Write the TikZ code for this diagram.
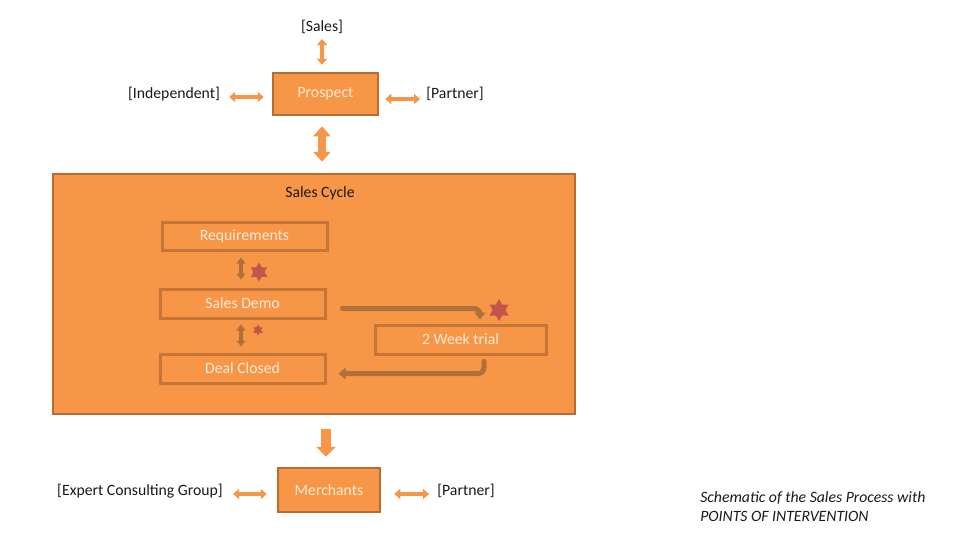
\documentclass[tikz,border=0pt]{standalone}
\usepackage{fontspec}
\setmainfont{Carlito}
\usetikzlibrary{arrows.meta,shapes.geometric}
\definecolor{org}{RGB}{247,150,70}
\definecolor{orgdark}{RGB}{182,108,50}
\definecolor{innerc}{RGB}{196,118,56}
\definecolor{brn}{RGB}{176,112,58}
\definecolor{txtw}{RGB}{253,234,218}
\definecolor{starc}{RGB}{196,84,78}
\definecolor{lbl}{RGB}{25,25,25}
\begin{document}
\begin{tikzpicture}[x=0.75pt,y=-0.75pt,
  font=\fontsize{11.8}{14}\selectfont,
  mainbox/.style={draw=orgdark, fill=org, line width=1.875pt, text=txtw, inner sep=0pt},
  subbox/.style={draw=innerc, line width=2.25pt, text=txtw, inner sep=0pt, minimum height=21.75pt},
  lab/.style={text=lbl, inner sep=0pt},
  sidearrow/.style={draw=org, line width=3pt, {Triangle[width=7.5pt,length=4.5pt]}-{Triangle[width=7.5pt,length=4.5pt]}},
  vertarrow/.style={draw=org, line width=6pt, {Triangle[width=12.75pt,length=7.5pt]}-{Triangle[width=12.75pt,length=7.5pt]}},
  downarrow/.style={draw=org, line width=7.5pt, -{Triangle[width=14.25pt,length=7.5pt]}},
  inarrow/.style={draw=brn, line width=3pt, {Triangle[width=6.75pt,length=4.5pt]}-{Triangle[width=6.75pt,length=4.5pt]}},
  bendarrow/.style={draw=brn, line width=3.75pt, rounded corners=4.5pt, line cap=round, -{Triangle[width=8.25pt,length=5.25pt]}},
  starmark/.style={star, star points=6, star point ratio=1.73, fill=starc, inner sep=0pt}
]
\useasboundingbox (0,0) rectangle (960,540);

% top group
\node[mainbox, minimum width=78.75pt, minimum height=31.5pt] (prospect) at (325.5,94) {\raisebox{-1.2pt}{Prospect}};
\node[lab] (sales) at (322,27) {[Sales]};
\node[lab] (indep) at (174,94) {[Independent]};
\node[lab] (partner) at (455,94) {[Partner]};

\draw[sidearrow, shorten <=3.75pt, shorten >=5.25pt] (sales.south) -- (sales.south |- prospect.north);
\draw[sidearrow, shorten <=6.75pt, shorten >=6pt] ([yshift=-2.25pt]indep.east) -- ([yshift=-2.25pt]prospect.west);
\draw[sidearrow, shorten <=4.5pt, shorten >=4.5pt] ([yshift=-3.75pt]prospect.east) -- ([yshift=-3.75pt]prospect.east -| partner.west);

% sales cycle
\node[mainbox, minimum width=391.5pt, minimum height=180pt] (cycle) at (314,294) {};
\node[lab] (cyclelab) at (320,193) {Sales Cycle};

\draw[vertarrow, shorten <=7.5pt, shorten >=8.25pt] ([xshift=-2.625pt]prospect.south) -- ([xshift=-2.625pt]prospect.south |- cycle.north);

\node[subbox, minimum width=123.75pt, minimum height=21pt] (req) at (244.5,236) {Requirements};
\node[subbox, minimum width=123.75pt] (demo) at (242.5,303.5) {Sales Demo};
\node[subbox, minimum width=123.75pt] (closed) at (242.5,368.5) {Deal Closed};
\node[subbox, minimum width=128.25pt] (trial) at (460.5,339.5) {2 Week trial};

\draw[inarrow, shorten <=4.5pt, shorten >=6pt] ([xshift=-2.625pt]req.south) -- ([xshift=-2.625pt]req.south |- demo.north);
\draw[inarrow, shorten <=3.75pt, shorten >=4.5pt] ([xshift=-1.125pt]demo.south) -- ([xshift=-1.125pt]demo.south |- closed.north);

\draw[bendarrow, shorten >=3pt] ([xshift=12pt, yshift=-3.75pt]demo.east) -| ([xshift=14.625pt]trial.north);
\draw[bendarrow, shorten <=4.5pt] ([xshift=17.625pt]trial.south) |- ([xshift=9pt, yshift=-3.75pt]closed.east);

\node[starmark, minimum size=14.25pt] (star1) at (259,272) {};
\node[starmark, minimum size=8.25pt] (star2) at (258,330) {};
\node[starmark, minimum size=16.5pt] (star3) at (499,310) {};

% bottom group
\node[mainbox, minimum width=76.5pt, minimum height=33pt] (merch) at (329,490) {Merchants};
\node[lab] (ecg) at (140,491) {[Expert Consulting Group]};
\node[lab] (partner2) at (466,491) {[Partner]};

\draw[downarrow, shorten <=10.5pt, shorten >=7.5pt] ([xshift=9pt]cycle.south) -- ([xshift=9pt]cycle.south |- merch.north);
\draw[sidearrow, shorten <=7.5pt, shorten >=7.5pt] ([yshift=-2.25pt]ecg.east) -- ([yshift=-3pt]merch.west);
\draw[sidearrow, shorten <=9.75pt, shorten >=6pt] ([yshift=-3pt]merch.east) -- ([yshift=-3pt]merch.east -| partner2.west);

\node[lab, anchor=north west, align=left, font=\fontsize{11.8}{14.5}\selectfont\itshape] (caption) at (700,491) {Schematic of the Sales Process with\\POINTS OF INTERVENTION};
\end{tikzpicture}
\end{document}
